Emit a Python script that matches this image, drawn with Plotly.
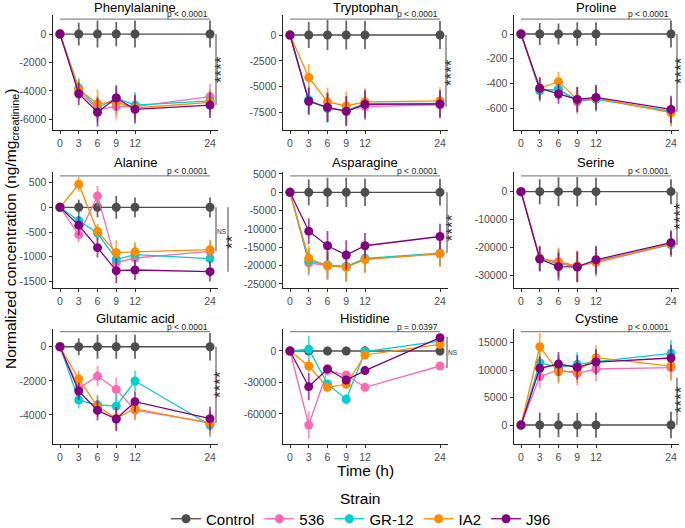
import plotly.graph_objects as go

W, H = 685, 528

TIME = [0, 3, 6, 9, 12, 24]
STRAINS = ["Control", "536", "GR-12", "IA2", "J96"]
COLORS = {"Control": "#4D4D4D", "536": "#FF69B4", "GR-12": "#00CED1",
          "IA2": "#FF8C00", "J96": "#800080"}
ERR_COLORS = {"Control": "rgba(77,77,77,0.85)", "536": "rgba(255,105,180,0.7)",
              "GR-12": "rgba(0,206,209,0.7)", "IA2": "rgba(255,140,0,0.7)",
              "J96": "rgba(128,0,128,0.7)"}

PANELS = ["Phenylalanine", "Tryptophan", "Proline", "Alanine", "Asparagine",
          "Serine", "Glutamic acid", "Histidine", "Cystine"]

# ---- data (means) ----
phe_mean = {"Control": [0, 0, 0, 0, 0, 0], "536": [0, -4000, -5300, -5100, -5100, -4400],
            "GR-12": [0, -3800, -5200, -4500, -5000, -4700], "IA2": [0, -3900, -4900, -4800, -5200, -4800],
            "J96": [0, -4200, -5500, -4500, -5300, -5000]}
phe_err = {"Control": [0, 800, 950, 850, 950, 950], "536": [0, 700, 900, 900, 900, 900],
           "GR-12": [0, 700, 800, 800, 900, 800], "IA2": [0, 700, 1000, 900, 900, 900],
           "J96": [0, 800, 1000, 900, 1000, 900]}

trp_mean = {"Control": [0, 0, 0, 0, 0, 0], "536": [0, -6400, -7000, -7300, -6900, -6750],
            "GR-12": [0, -6250, -7100, -7300, -6600, -6600], "IA2": [0, -4100, -6450, -6850, -6450, -6350],
            "J96": [0, -6400, -6980, -7370, -6700, -6660]}
trp_err = {"Control": [0, 1250, 1450, 1400, 1350, 1350], "536": [0, 1300, 1400, 1400, 1300, 1300],
           "GR-12": [0, 1300, 1400, 1400, 1300, 1300], "IA2": [0, 1300, 1350, 1400, 1300, 1300],
           "J96": [0, 1300, 1400, 1450, 1350, 1300]}

pro_mean = {"Control": [0, 0, 0, 0, 0, 0], "536": [0, -450, -450, -550, -525, -630],
            "GR-12": [0, -460, -450, -535, -530, -625], "IA2": [0, -440, -386, -530, -520, -638],
            "J96": [0, -440, -486, -530, -514, -611]}
pro_err = {"Control": [0, 90, 85, 95, 95, 110], "536": [0, 90, 80, 100, 100, 110],
           "GR-12": [0, 90, 80, 100, 100, 110], "IA2": [0, 90, 80, 100, 100, 110],
           "J96": [0, 90, 80, 100, 100, 110]}

ala_mean = {"Control": [0, 0, 0, 0, 0, 0], "536": [0, -552, 230, -1118, -1024, -889],
            "GR-12": [0, -270, -520, -1050, -956, -1037], "IA2": [0, 465, -485, -916, -900, -855],
            "J96": [0, -364, -815, -1280, -1266, -1300]}
ala_err = {"Control": [0, 150, 200, 230, 200, 200], "536": [0, 150, 200, 200, 200, 200],
           "GR-12": [0, 150, 150, 200, 200, 150], "IA2": [0, 150, 150, 250, 200, 200],
           "J96": [0, 200, 200, 250, 200, 200]}

asn_mean = {"Control": [0, 0, 0, 0, 0, 0], "536": [0, -19250, -19960, -20300, -18250, -16800],
            "GR-12": [0, -18700, -19800, -20250, -18000, -16600], "IA2": [0, -17990, -20050, -20400, -18350, -16730],
            "J96": [0, -10600, -14570, -17090, -14570, -12050]}
asn_err = {"Control": [0, 3500, 4000, 4000, 3700, 3600], "536": [0, 3500, 3800, 4000, 3600, 3500],
           "GR-12": [0, 3500, 3800, 4000, 3600, 3500], "IA2": [0, 3500, 3800, 4000, 3600, 3500],
           "J96": [0, 3500, 4000, 4000, 3500, 3500]}

ser_mean = {"Control": [0, 0, 0, 0, 0, 0], "536": [0, -24000, -25200, -26800, -25500, -19000],
            "GR-12": [0, -24000, -26000, -27000, -25000, -19000], "IA2": [0, -24000, -25500, -26700, -25300, -18700],
            "J96": [0, -24250, -27000, -27100, -24500, -18360]}
ser_err = {"Control": [0, 4500, 5200, 5300, 5000, 4500], "536": [0, 4500, 5000, 5500, 5000, 4500],
           "GR-12": [0, 4500, 5000, 5500, 5000, 4500], "IA2": [0, 4500, 5000, 5500, 5000, 4500],
           "J96": [0, 4500, 5000, 5500, 5000, 4500]}

glu_mean = {"Control": [0, 0, 0, 0, 0, 0], "536": [0, -2440, -1720, -2500, -3710, -4450],
            "GR-12": [0, -3120, -3415, -3470, -2010, -4590], "IA2": [0, -1890, -3510, -4195, -3630, -4490],
            "J96": [0, -2600, -3730, -4235, -3220, -4215]}
glu_err = {"Control": [0, 500, 700, 700, 700, 800], "536": [0, 500, 600, 700, 600, 700],
           "GR-12": [0, 500, 600, 700, 600, 700], "IA2": [0, 500, 600, 700, 600, 700],
           "J96": [0, 500, 600, 700, 600, 700]}

his_mean = {"Control": [0, 0, 0, 0, 0, 0], "536": [0, -70500, -18700, -22900, -34600, -14300],
            "GR-12": [0, 1600, -31400, -46000, -600, 9500], "IA2": [0, -14300, -34600, -31700, -3800, 6300],
            "J96": [0, -34000, -17100, -27600, -18700, 12700]}
his_err = {"Control": [0, 4000, 4000, 4000, 4500, 4000], "536": [0, 13000, 3500, 3500, 3500, 3500],
           "GR-12": [0, 13000, 3500, 5000, 3000, 3000], "IA2": [0, 6000, 4000, 4000, 3000, 3000],
           "J96": [0, 13000, 4000, 4000, 4000, 3000]}

cys_mean = {"Control": [0, 0, 0, 0, 0, 0], "536": [0, 8810, 10025, 9420, 10210, 10450],
            "GR-12": [0, 11360, 10500, 11060, 11540, 13060], "IA2": [0, 14270, 9700, 9840, 12270, 10750],
            "J96": [0, 10330, 11120, 10510, 11480, 12210]}
cys_err = {"Control": [0, 2300, 2200, 2200, 2300, 2400], "536": [0, 2200, 2200, 2200, 2300, 2400],
           "GR-12": [0, 2200, 2200, 2200, 2300, 2400], "IA2": [0, 2500, 2200, 2200, 2300, 2400],
           "J96": [0, 2200, 2200, 2200, 2300, 2400]}

MEANS = [phe_mean, trp_mean, pro_mean, ala_mean, asn_mean, ser_mean, glu_mean, his_mean, cys_mean]
ERRS = [phe_err, trp_err, pro_err, ala_err, asn_err, ser_err, glu_err, his_err, cys_err]

# y tick values / labels
Y_TICKS = [[0, -2000, -4000, -6000], [0, -2500, -5000, -7500], [0, -200, -400, -600],
           [500, 0, -500, -1000, -1500], [5000, 0, -5000, -10000, -15000, -20000, -25000],
           [0, -10000, -20000, -30000], [0, -2000, -4000], [0, -30000, -60000],
           [0, 5000, 10000, 15000]]
Y_TICKTEXT = [["0", "-2000", "-4000", "-6000"], ["0", "-2500", "-5000", "-7500"],
              ["0", "-200", "-400", "-600"], ["500", "0", "-500", "-1000", "-1500"],
              ["5000", "0", "-5000", "-10000", "-15000", "-20000", "-25000"],
              ["0", "-10000", "-20000", "-30000"], ["0", "-2000", "-4000"],
              ["0", "-30000", "-60000"], ["0", "5000", "10000", "15000"]]
Y_RANGES = [[-6750, 1340], [-9170, 1930], [-778, 154], [-1630, 713], [-26100, 5540],
            [-34670, 7090], [-5700, 1040], [-88600, 20950], [-3460, 17500]]

P_TEXT = ["p < 0.0001"] * 7 + ["p = 0.0397", "p < 0.0001"]

# significance brackets: (panel, x_px, y0, y1, label, label_x_px, label_y, fontsize)
BRACKETS = [(0, 216, 0, -4990, "****", 221, -2530, 17),
            (1, 446, 0, -6920, "****", 451, -3670, 17),
            (2, 677, 0, -630, "****", 681, -300, 17),
            (3, 216, 0, -885, "NS", 222, -480, 6.5),
            (3, 228, 0, -1300, "**", 233, -700, 17),
            (4, 447, 0, -16600, "****", 452, -9500, 17),
            (5, 677, 0, -19200, "****", 681, -9000, 17),
            (6, 216, 0, -4470, "****", 221, -2240, 17),
            (7, 447, 13600, -16200, "NS", 453, -1600, 6.5),
            (8, 677, 0, 8600, "****", 681, 4560, 17)]

# ---- layout geometry (pixels) ----
COLS = [(52.5, 217.5), (282.5, 447.5), (513.5, 678.5)]
ROWS = [(15, 130), (172, 288), (329, 444)]
PLINE = [0.965, 0.966, 0.977]
TITLE_Y = [7, 162, 318]

FONT = "Liberation Sans, Arial, sans-serif"

fig = go.Figure()
layout = {}
annotations = []
shapes = []

for i, name in enumerate(PANELS):
    r, c = divmod(i, 3)
    ax = "" if i == 0 else str(i + 1)
    xref, yref = "x" + ax, "y" + ax
    for s in STRAINS:
        fig.add_trace(go.Scatter(
            x=TIME, y=MEANS[i][s], mode="lines+markers", name=s,
            legendgroup=s, showlegend=(i == 0),
            line=dict(color=COLORS[s], width=1.3),
            marker=dict(color=COLORS[s], size=9),
            error_y=dict(type="data", array=ERRS[i][s], color=ERR_COLORS[s],
                         thickness=1.8, width=0),
            xaxis=xref, yaxis=yref))
    x0, x1 = COLS[c]
    y0, y1 = ROWS[r]
    layout["xaxis" + ax] = dict(
        domain=[x0 / W, x1 / W], range=[-1.2, 25.2], anchor=yref,
        tickvals=TIME, ticktext=[str(t) for t in TIME],
        showline=True, linecolor="#222", linewidth=1, ticks="outside",
        ticklen=3, tickcolor="#333", tickfont=dict(size=10.5, color="#4D4D4D"),
        showgrid=False, zeroline=False)
    layout["yaxis" + ax] = dict(
        domain=[1 - y1 / H, 1 - y0 / H], range=Y_RANGES[i], anchor=xref,
        tickvals=Y_TICKS[i], ticktext=Y_TICKTEXT[i],
        showline=True, linecolor="#222", linewidth=1, ticks="outside",
        ticklen=3, tickcolor="#333", tickfont=dict(size=10.5, color="#4D4D4D"),
        showgrid=False, zeroline=False)
    # panel title
    annotations.append(dict(text=name, x=(x0 + x1) / 2 / W, y=1 - TITLE_Y[r] / H,
                            xref="paper", yref="paper", showarrow=False,
                            xanchor="center", yanchor="middle",
                            font=dict(size=13, color="#000")))
    # p-value line and text
    shapes.append(dict(type="line", xref=xref, yref=yref + " domain",
                       x0=0, x1=24, y0=PLINE[r], y1=PLINE[r],
                       line=dict(color="#8C8C8C", width=1.2)))
    annotations.append(dict(text=P_TEXT[i], x=24, y=PLINE[r], xref=xref,
                            yref=yref + " domain", showarrow=False,
                            xanchor="right", yanchor="bottom", yshift=-2,
                            font=dict(size=8.5, color="#222")))

for (p, xp, b0, b1, lab, lx, ly, fs) in BRACKETS:
    ax = "" if p == 0 else str(p + 1)
    yref = "y" + ax
    shapes.append(dict(type="line", xref="paper", yref=yref,
                       x0=xp / W, x1=xp / W, y0=b0, y1=b1,
                       line=dict(color="#555", width=1.1)))
    annotations.append(dict(text=lab, x=lx / W, y=ly, xref="paper", yref=yref,
                            showarrow=False, xanchor="center", yanchor="middle",
                            textangle=(-90 if lab != "NS" else 0),
                            font=dict(size=fs, color="#333")))

# axis titles
annotations.append(dict(text="Time (h)", x=365 / W, y=1 - 470 / H, xref="paper",
                        yref="paper", showarrow=False, xanchor="center",
                        yanchor="middle", font=dict(size=15.5, color="#000")))
annotations.append(dict(text="Normalized concentration (ng/mg<sub>creatinine</sub>)",
                        x=11 / W, y=1 - 229 / H, xref="paper", yref="paper",
                        showarrow=False, xanchor="center", yanchor="middle",
                        textangle=-90, font=dict(size=15.5, color="#000")))
annotations.append(dict(text="Strain", x=361 / W, y=1 - 498 / H, xref="paper",
                        yref="paper", showarrow=False, xanchor="center",
                        yanchor="middle", font=dict(size=15.5, color="#000")))

fig.update_layout(
    width=W, height=H, margin=dict(l=0, r=0, t=0, b=0, autoexpand=False),
    paper_bgcolor="white", plot_bgcolor="white",
    font=dict(family=FONT),
    showlegend=True,
    legend=dict(orientation="h", x=361 / W, xanchor="center",
                y=1 - 519 / H, yanchor="middle",
                font=dict(size=15, color="#000"), itemwidth=30,
                tracegroupgap=0, bgcolor="rgba(0,0,0,0)"),
    annotations=annotations, shapes=shapes, **layout)

fig.write_html("out.html",
               config={"displayModeBar": False},
               post_script="document.body.style.margin='0';"
                           "document.body.style.padding='0';"
                           "document.body.style.overflow='hidden';")
